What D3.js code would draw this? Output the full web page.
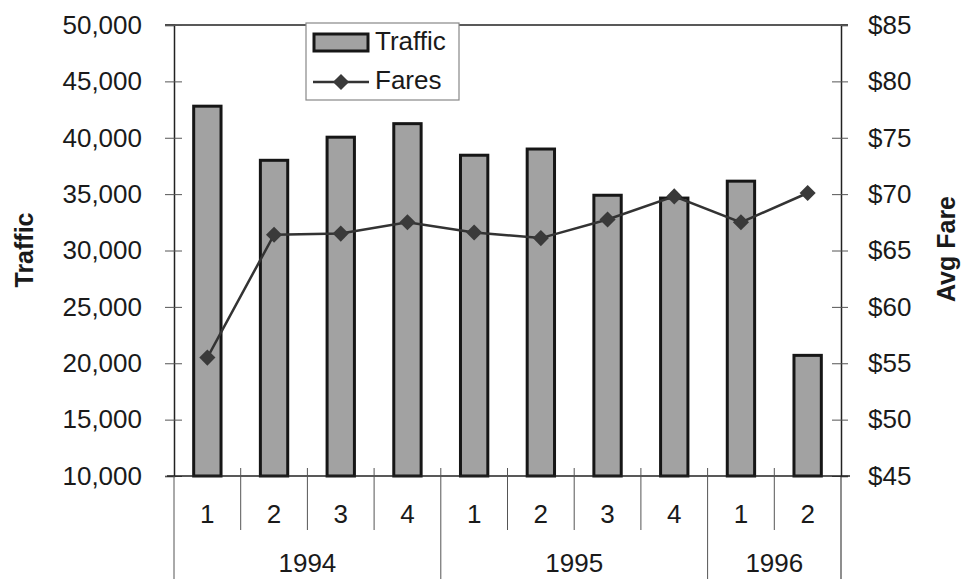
<!DOCTYPE html>
<html>
<head>
<meta charset="utf-8">
<script src="https://cdn.jsdelivr.net/npm/d3@7"></script>
<style>
  body { margin: 0; background: #fff; }
  text { font-family: "Liberation Sans", Arial, sans-serif; fill: #1a1a1a; }
</style>
</head>
<body>
<div id="chart"></div>
<script>
const quarters = ['1', '2', '3', '4', '1', '2', '3', '4', '1', '2'];
const years = ['1994', '1994', '1994', '1994', '1995', '1995', '1995', '1995', '1996', '1996'];
const traffic = [42800, 38000, 40050, 41250, 38450, 39000, 34900, 34650, 36150, 20700];
const fares = [55.5, 66.4, 66.5, 67.5, 66.6, 66.1, 67.75, 69.8, 67.5, 70.1];
const trafficTicks = [10000, 15000, 20000, 25000, 30000, 35000, 40000, 45000, 50000];
const fareTicks = [45, 50, 55, 60, 65, 70, 75, 80, 85];

const W = 963, H = 579;
const margin = { top: 25, right: 122, bottom: 103, left: 174 };
const plotW = W - margin.left - margin.right;
const plotH = H - margin.top - margin.bottom;
const fontSize = '26px';

const svg = d3.select('#chart')
    .append('svg')
    .attr('width', W)
    .attr('height', H);

const g = svg.append('g')
    .attr('transform', `translate(${margin.left}, ${margin.top})`);

const x = d3.scaleBand()
    .domain(d3.range(quarters.length))
    .range([0, plotW]);

const yLeft = d3.scaleLinear().domain([10000, 50000]).range([plotH, 0]);
const yRight = d3.scaleLinear().domain([45, 85]).range([plotH, 0]);

// frame top line
g.append('line')
    .attr('x1', -9).attr('x2', plotW + 7)
    .attr('y1', 0).attr('y2', 0)
    .attr('stroke', '#222').attr('stroke-width', 1.5);

// left axis
const leftAxis = g.append('g')
    .call(d3.axisLeft(yLeft).tickValues(trafficTicks).tickSize(9).tickPadding(23)
        .tickFormat(d3.format(',')));
leftAxis.select('.domain').attr('stroke', '#222').attr('stroke-width', 1.5);
leftAxis.selectAll('.tick line').attr('x1', 8).attr('stroke', '#555').attr('stroke-width', 1);
leftAxis.selectAll('.tick text').style('font-size', fontSize).attr('fill', '#1a1a1a');

// right axis
const rightAxis = g.append('g')
    .attr('transform', `translate(${plotW}, 0)`)
    .call(d3.axisRight(yRight).tickValues(fareTicks).tickSize(7).tickPadding(20)
        .tickFormat(d => '$' + d));
rightAxis.select('.domain').attr('stroke', '#222').attr('stroke-width', 1.5);
rightAxis.selectAll('.tick line').attr('x1', -9).attr('stroke', '#555').attr('stroke-width', 1);
rightAxis.selectAll('.tick text').style('font-size', fontSize).attr('fill', '#1a1a1a');

// right axis continues down through the category area
g.append('line')
    .attr('x1', plotW).attr('x2', plotW)
    .attr('y1', plotH).attr('y2', H - margin.top)
    .attr('stroke', '#444').attr('stroke-width', 1.2);

// bars
const barW = x.bandwidth() * 0.41;
g.selectAll('.bar')
    .data(traffic)
    .enter()
    .append('rect')
    .attr('class', 'bar')
    .attr('x', (d, i) => x(i) + (x.bandwidth() - barW) / 2)
    .attr('y', d => yLeft(d))
    .attr('width', barW)
    .attr('height', d => plotH - yLeft(d))
    .attr('fill', '#a2a2a2')
    .attr('stroke', '#161616')
    .attr('stroke-width', 3);

// baseline
g.append('line')
    .attr('x1', -7).attr('x2', plotW + 9)
    .attr('y1', plotH).attr('y2', plotH)
    .attr('stroke', '#222').attr('stroke-width', 1.5);

// fares line
const line = d3.line()
    .x((d, i) => x(i) + x.bandwidth() / 2)
    .y(d => yRight(d));

g.append('path')
    .datum(fares)
    .attr('d', line)
    .attr('fill', 'none')
    .attr('stroke', '#333')
    .attr('stroke-width', 2.5);

const diamond = d3.symbol().type(d3.symbolSquare).size(130);
g.selectAll('.pt')
    .data(fares)
    .enter()
    .append('path')
    .attr('class', 'pt')
    .attr('d', diamond)
    .attr('transform', (d, i) => `translate(${x(i) + x.bandwidth() / 2}, ${yRight(d)}) rotate(45)`)
    .attr('fill', '#3a3a3a');

// category axis: quarter labels, separators, year labels
const yearGroups = [];
years.forEach((y, i) => {
    const last = yearGroups[yearGroups.length - 1];
    if (last && last.year === y) last.end = i;
    else yearGroups.push({ year: y, start: i, end: i });
});

const cat = g.append('g');
quarters.forEach((q, i) => {
    cat.append('text')
        .attr('x', x(i) + x.bandwidth() / 2)
        .attr('y', plotH + 40)
        .attr('text-anchor', 'middle')
        .attr('dominant-baseline', 'middle')
        .style('font-size', fontSize)
        .text(q);
});

d3.range(0, quarters.length).forEach(i => {
    const isYearStart = yearGroups.some(gr => gr.start === i);
    cat.append('line')
        .attr('x1', x(i)).attr('x2', x(i))
        .attr('y1', i === 0 ? plotH : plotH - 8)
        .attr('y2', isYearStart ? H - margin.top : plotH + 54)
        .attr('stroke', '#555')
        .attr('stroke-width', 1);
});

yearGroups.forEach(gr => {
    cat.append('text')
        .attr('x', (x(gr.start) + x(gr.end) + x.bandwidth()) / 2)
        .attr('y', plotH + 96)
        .attr('text-anchor', 'middle')
        .style('font-size', fontSize)
        .text(gr.year);
});

// axis titles
svg.append('text')
    .attr('transform', `translate(33, 250) rotate(-90)`)
    .attr('text-anchor', 'middle')
    .style('font-size', '25px')
    .style('font-weight', 'bold')
    .text('Traffic');

svg.append('text')
    .attr('transform', `translate(955, 249) rotate(-90)`)
    .attr('text-anchor', 'middle')
    .style('font-size', '25px')
    .style('font-weight', 'bold')
    .text('Avg Fare');

// legend
const legend = svg.append('g').attr('transform', 'translate(306, 23)');
legend.append('rect')
    .attr('width', 153).attr('height', 77)
    .attr('fill', '#fff')
    .attr('stroke', '#888').attr('stroke-width', 1.2);
legend.append('rect')
    .attr('x', 8).attr('y', 11).attr('width', 54).attr('height', 17)
    .attr('fill', '#a2a2a2').attr('stroke', '#161616').attr('stroke-width', 3);
legend.append('text')
    .attr('x', 69).attr('y', 20)
    .attr('dominant-baseline', 'middle')
    .style('font-size', fontSize)
    .text('Traffic');
legend.append('line')
    .attr('x1', 7).attr('x2', 63).attr('y1', 59).attr('y2', 59)
    .attr('stroke', '#333').attr('stroke-width', 2.5);
legend.append('path')
    .attr('d', diamond)
    .attr('transform', 'translate(35, 59) rotate(45)')
    .attr('fill', '#3a3a3a');
legend.append('text')
    .attr('x', 69).attr('y', 59)
    .attr('dominant-baseline', 'middle')
    .style('font-size', fontSize)
    .text('Fares');
</script>
</body>
</html>
